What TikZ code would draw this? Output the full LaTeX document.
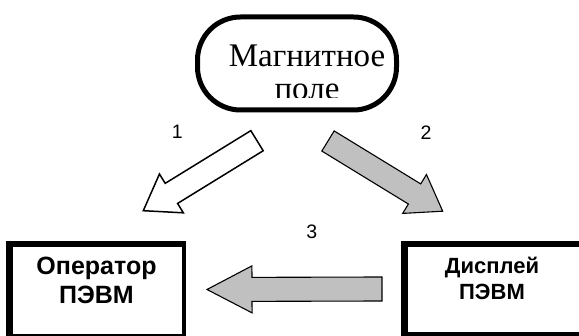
\documentclass[tikz,border=0pt]{standalone}
\usepackage{fontspec}
\setmainfont{Liberation Serif}
\newfontfamily\arialfont{Liberation Sans}
\usetikzlibrary{calc}

\definecolor{arrowgray}{HTML}{C0C0C0}

\tikzset{
  fieldbox/.style={draw, line width=5pt, rounded corners=43pt,
    minimum width=199pt, minimum height=93pt, inner sep=0pt},
  fieldtext/.style={font=\fontsize{33}{33}\selectfont, anchor=base, inner sep=0pt},
  unitbox/.style={draw, line width=4pt, inner sep=0pt},
  heavyedge/.style={line width=6.5pt, line cap=butt},
  oplabel/.style={font=\arialfont\bfseries\fontsize{25}{28}\selectfont, anchor=base, inner sep=0pt},
  displabel/.style={font=\arialfont\bfseries\fontsize{22}{26}\selectfont, anchor=base, inner sep=0pt},
  numlabel/.style={font=\arialfont\fontsize{19.5}{21}\selectfont, anchor=base, inner sep=0pt},
  hollowarrow/.style={draw, fill=white, line width=1.5pt, line join=miter},
  grayarrow/.style={draw, fill=arrowgray, line width=1.1pt, line join=miter},
}

% block arrow: #1 style, #2 tail, #3 tip, #4 shaft half width, #5 head half width, #6 head length
\newcommand\blockarrow[6]{%
  \coordinate (#2-base) at ($(#3)!#6!(#2)$);
  \draw[#1] ($(#2)!#4!90:(#3)$) -- ($(#2-base)!#4!90:(#3)$)
    -- ($(#2-base)!#5!90:(#3)$) -- (#3)
    -- ($(#2-base)!#5!-90:(#3)$) -- ($(#2-base)!#4!-90:(#3)$)
    -- ($(#2)!#4!-90:(#3)$) -- cycle;
}

\begin{document}
\begin{tikzpicture}[x=1pt, y=-1pt]
\useasboundingbox (0,0) rectangle (579,336);

% magnetic field: text box clipped at its lower edge
\begin{scope}
  \clip (190,0) rectangle (405,97.5);
  \node[fieldtext] (fieldtop) at (307,67) {Магнитное};
  \node[fieldtext] (fieldbottom) at (307,100) {поле};
\end{scope}
\node[fieldbox] (field) at (297,63.5) {};

% operator and display boxes
\node[unitbox, minimum width=174pt, minimum height=91pt] (operator) at (97,290.5) {};
\draw[heavyedge] ([xshift=1.25pt]operator.south west) -- ([xshift=1.25pt, yshift=-1.25pt]operator.north west)
  -- ([yshift=-1.25pt]operator.north east);
\node[oplabel] (optop) at (96.5,275) {Оператор};
\node[oplabel] (opbottom) at (96.5,303.3) {ПЭВМ};

\node[unitbox, minimum width=179pt, minimum height=89pt] (display) at (494.5,289.5) {};
\draw[heavyedge] ([xshift=1.25pt]display.south west) -- ([xshift=1.25pt, yshift=-1.25pt]display.north west)
  -- ([yshift=-1.25pt]display.north east);
\node[displabel] (disptop) at (492,273.3) {Дисплей};
\node[displabel] (dispbottom) at (492,300) {ПЭВМ};

% influence arrows
\coordinate (a1) at (257,140.7);
\coordinate (a1tip) at (143.3,210.7);
\blockarrow{hollowarrow}{a1}{a1tip}{11.8pt}{22.8pt}{33pt}

\coordinate (a2) at (328,141);
\coordinate (a2tip) at (442.7,211.2);
\blockarrow{grayarrow}{a2}{a2tip}{11.8pt}{22.8pt}{33pt}

\coordinate (a3) at (382,289);
\coordinate (a3tip) at (207,289.5);
\blockarrow{grayarrow}{a3}{a3tip}{12pt}{23.5pt}{45pt}

\node[numlabel] (n1) at (177.4,138.3) {1};
\node[numlabel] (n2) at (426,139.5) {2};
\node[numlabel] (n3) at (311.7,239) {3};
\end{tikzpicture}
\end{document}
